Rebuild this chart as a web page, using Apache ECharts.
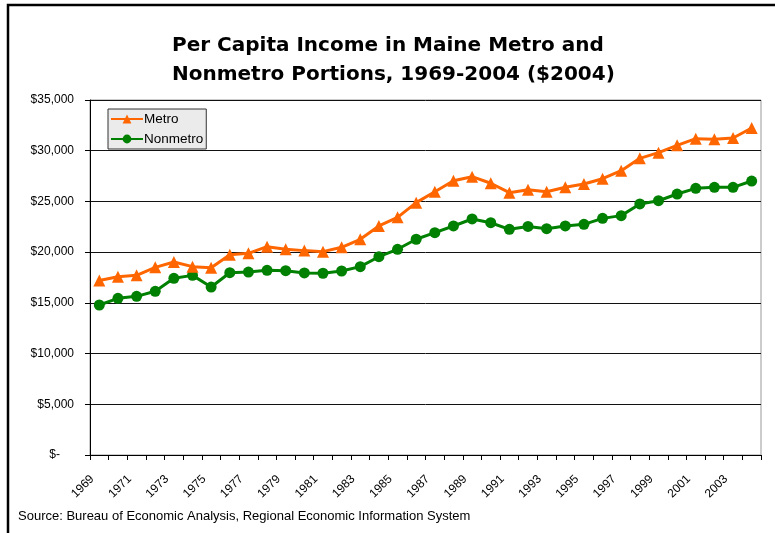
<!DOCTYPE html>
<html>
<head>
<meta charset="utf-8">
<script src="https://cdn.jsdelivr.net/npm/echarts@6/dist/echarts.min.js"></script>
<style>
html,body{margin:0;padding:0;background:#fff;}
#chart{width:775px;height:533px;}
</style>
</head>
<body>
<div id="chart"></div>
<script>
var years = ['1969','1970','1971','1972','1973','1974','1975','1976','1977','1978','1979','1980','1981','1982','1983','1984','1985','1986','1987','1988','1989','1990','1991','1992','1993','1994','1995','1996','1997','1998','1999','2000','2001','2002','2003','2004'];
var metro = [17200,17580,17720,18500,19030,18570,18470,19750,19880,20540,20280,20150,20050,20480,21270,22580,23430,24880,25960,27040,27440,26790,25860,26150,25960,26390,26720,27240,28030,29250,29810,30530,31190,31120,31250,32240];
var nonmetro = [14790,15450,15640,16140,17420,17710,16560,17970,18040,18210,18170,17950,17920,18140,18570,19550,20280,21270,21920,22580,23270,22900,22250,22530,22310,22580,22740,23330,23600,24750,25070,25730,26290,26390,26390,27010];
var yTicks = [0,5000,10000,15000,20000,25000,30000,35000];
var titleText = 'Per Capita Income in Maine Metro and\nNonmetro Portions, 1969-2004 ($2004)';
var sourceText = 'Source: Bureau of Economic Analysis, Regional Economic Information System';

var chart = echarts.init(document.getElementById('chart'), null, {renderer:'canvas'});
var option = {
  backgroundColor: '#ffffff',
  animation: false,
  title: {
    text: titleText,
    left: 167,
    top: 26,
    textAlign: 'left',
    textStyle: {fontFamily: 'DejaVu Sans', fontWeight: 'bold', fontSize: 20, lineHeight: 29, color: '#000', align: 'center'}
  },
  graphic: [
    {type: 'rect', shape: {x: 8, y: 5, width: 900, height: 700}, style: {fill: 'none', stroke: '#000', lineWidth: 2.5}, z: 100},
    {type: 'text', left: 18, top: 510, style: {text: sourceText, font: '13px "Liberation Sans", Arial, sans-serif', fill: '#000'}}
  ],
  legend: {
    orient: 'vertical',
    left: 108,
    top: 109,
    backgroundColor: '#ebebeb',
    borderColor: '#333',
    borderWidth: 1,
    padding: [3, 3, 3, 2],
    itemWidth: 32,
    itemHeight: 11,
    itemGap: 6,
    textStyle: {fontFamily: 'Liberation Sans', fontSize: 13.5, color: '#000', padding: [0,0,0,-4]},
    data: ['Metro', 'Nonmetro']
  },
  grid: {
    left: 90, right: 14, top: 100, bottom: 78,
    show: true, borderColor: '#999', borderWidth: 1
  },
  xAxis: {
    type: 'category',
    data: years,
    boundaryGap: true,
    axisLine: {lineStyle: {color: '#000', width: 1}},
    axisTick: {show: true, interval: 0, length: 5, lineStyle: {color: '#000'}},
    axisLabel: {interval: 1, rotate: 45, margin: 15, padding: [0, 10, 0, 0], fontFamily: 'Liberation Sans', fontSize: 12, color: '#000'},
    splitLine: {show: false}
  },
  yAxis: {
    type: 'value',
    min: 0, max: 35000, interval: 5000,
    axisLine: {show: true, lineStyle: {color: '#000', width: 1}},
    axisTick: {show: true, length: 5, lineStyle: {color: '#000'}},
    axisLabel: {
      margin: 16,
      fontFamily: 'Liberation Sans', fontSize: 12, color: '#000',
      formatter: function (v) {
        if (v === 0) return '{z|$-}';
        return '$' + v.toLocaleString('en-US');
      },
      rich: {z: {fontFamily: 'Liberation Sans', fontSize: 12, color: '#000', padding: [0, 14, 0, 0]}}
    },
    splitLine: {show: true, lineStyle: {color: '#111', width: 1}}
  },
  series: [
    {
      name: 'Metro', type: 'line', data: metro,
      symbol: 'triangle', symbolSize: 12,
      lineStyle: {color: '#FF6600', width: 3},
      itemStyle: {color: '#FF6600'},
      z: 3
    },
    {
      name: 'Nonmetro', type: 'line', data: nonmetro,
      symbol: 'circle', symbolSize: 11,
      lineStyle: {color: '#008000', width: 3},
      itemStyle: {color: '#008000'},
      z: 2
    }
  ]
};
chart.setOption(option);
</script>
</body>
</html>
